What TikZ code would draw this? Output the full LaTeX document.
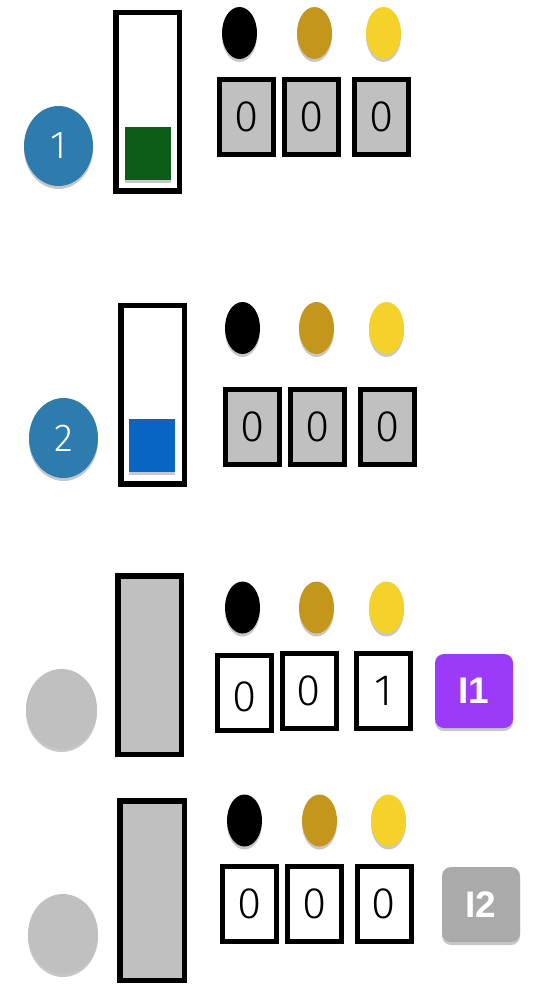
\documentclass[tikz,border=0pt]{standalone}
\usepackage{fontspec}
\setmainfont{Liberation Sans}
\newfontfamily\thinfont{Fira Sans Light}
\usetikzlibrary{shapes.geometric,shadows}
\definecolor{boxgray}{HTML}{C0C0C0}
\definecolor{stepblue}{HTML}{2E7BAE}
\definecolor{darkgreen}{HTML}{0D5C1A}
\definecolor{sqblue}{HTML}{0A64C4}
\definecolor{goldc}{HTML}{C4961C}
\definecolor{yellowc}{HTML}{F5D22A}
\definecolor{purplec}{HTML}{9B3BF7}
\definecolor{tagpgray}{HTML}{AAAAAA}
\tikzset{
  shd/.style={drop shadow={shadow xshift=0pt,shadow yshift=-3pt,opacity=0.22,fill=black}},
  digitfont/.style={font=\thinfont\fontsize{44}{44}\selectfont},
  cnt/.style={draw,line width=5pt,fill=boxgray,minimum width=54pt,minimum height=75pt,inner sep=0pt,digitfont},
  cntw/.style={cnt,fill=white},
  tube/.style={draw,line width=5.5pt,fill=white,minimum width=63.5pt,minimum height=178.5pt,inner sep=0pt,shd},
  tubeg/.style={tube,fill=boxgray},
  token/.style={rectangle,minimum width=46pt,minimum height=53pt,inner sep=0pt,shd},
  stepc/.style={ellipse,fill=stepblue,minimum width=69pt,minimum height=80pt,inner sep=0pt,text=white,
    font=\thinfont\fontsize{39}{39}\selectfont,shd},
  stepg/.style={stepc,fill=boxgray},
  bead/.style={ellipse,minimum width=35pt,minimum height=52pt,inner sep=0pt,shd},
  tagbox/.style={rounded corners=9pt,minimum width=78pt,minimum height=74pt,inner sep=0pt,text=white,
    font=\fontsize{37}{37}\selectfont\bfseries,shd}
}
\begin{document}
\begin{tikzpicture}[x=1pt,y=-1pt]
\useasboundingbox (0,0) rectangle (554,984);
% ---- panel 1
\node[stepc] (c1) at (58.5,146) {1};
\node[tube] (t1) at (147.5,102) {};
\node[token,fill=darkgreen] (s1) at (148,153.5) {};
\node[bead,fill=black] (e1a) at (239.5,33) {};
\node[bead,fill=goldc] (e1b) at (314.5,33) {};
\node[bead,fill=yellowc] (e1c) at (383.5,33) {};
\node[cnt] (b1a) at (246.5,117) {0};
\node[cnt] (b1b) at (311.5,117) {0};
\node[cnt] (b1c) at (381.5,117) {0};
% ---- panel 2
\node[stepc] (c2) at (63.5,438) {2};
\node[tube] (t2) at (152.5,394.5) {};
\node[token,fill=sqblue] (s2) at (152,445.5) {};
\node[bead,fill=black] (e2a) at (242.5,328) {};
\node[bead,fill=goldc] (e2b) at (316.5,328) {};
\node[bead,fill=yellowc] (e2c) at (386.5,328) {};
\node[cnt] (b2a) at (252.5,427) {0};
\node[cnt] (b2b) at (317.5,427) {0};
\node[cnt] (b2c) at (387.5,427) {0};
% ---- panel 3
\node[stepg,minimum width=71pt] (c3) at (61.5,709) {};
\node[tubeg] (t3) at (149.5,665) {};
\node[bead,fill=black] (e3a) at (242.5,607.5) {};
\node[bead,fill=goldc] (e3b) at (316.5,607.5) {};
\node[bead,fill=yellowc] (e3c) at (386.5,607.5) {};
\node[cntw] (b3a) at (244.5,693) {};
\node[digitfont] (v3a) at (244.5,697) {0};
\node[cntw] (b3b) at (309,691) {0};
\node[cntw] (b3c) at (383.5,691) {1};
\node[tagbox,fill=purplec] (i1) at (474,691) {I1};
% ---- panel 4
\node[stepg,minimum width=70pt] (c4) at (63,934) {};
\node[tubeg,minimum width=64.5pt,minimum height=179.5pt] (t4) at (152,890.5) {};
\node[bead,fill=black] (e4a) at (244.5,820.5) {};
\node[bead,fill=goldc] (e4b) at (319.5,820.5) {};
\node[bead,fill=yellowc] (e4c) at (388.5,820.5) {};
\node[cntw] (b4a) at (249.5,904) {0};
\node[cntw] (b4b) at (314.5,904) {0};
\node[cntw] (b4c) at (384,904) {0};
\node[tagbox,fill=tagpgray,minimum height=75pt] (i2) at (481,904.5) {I2};
\end{tikzpicture}
\end{document}
